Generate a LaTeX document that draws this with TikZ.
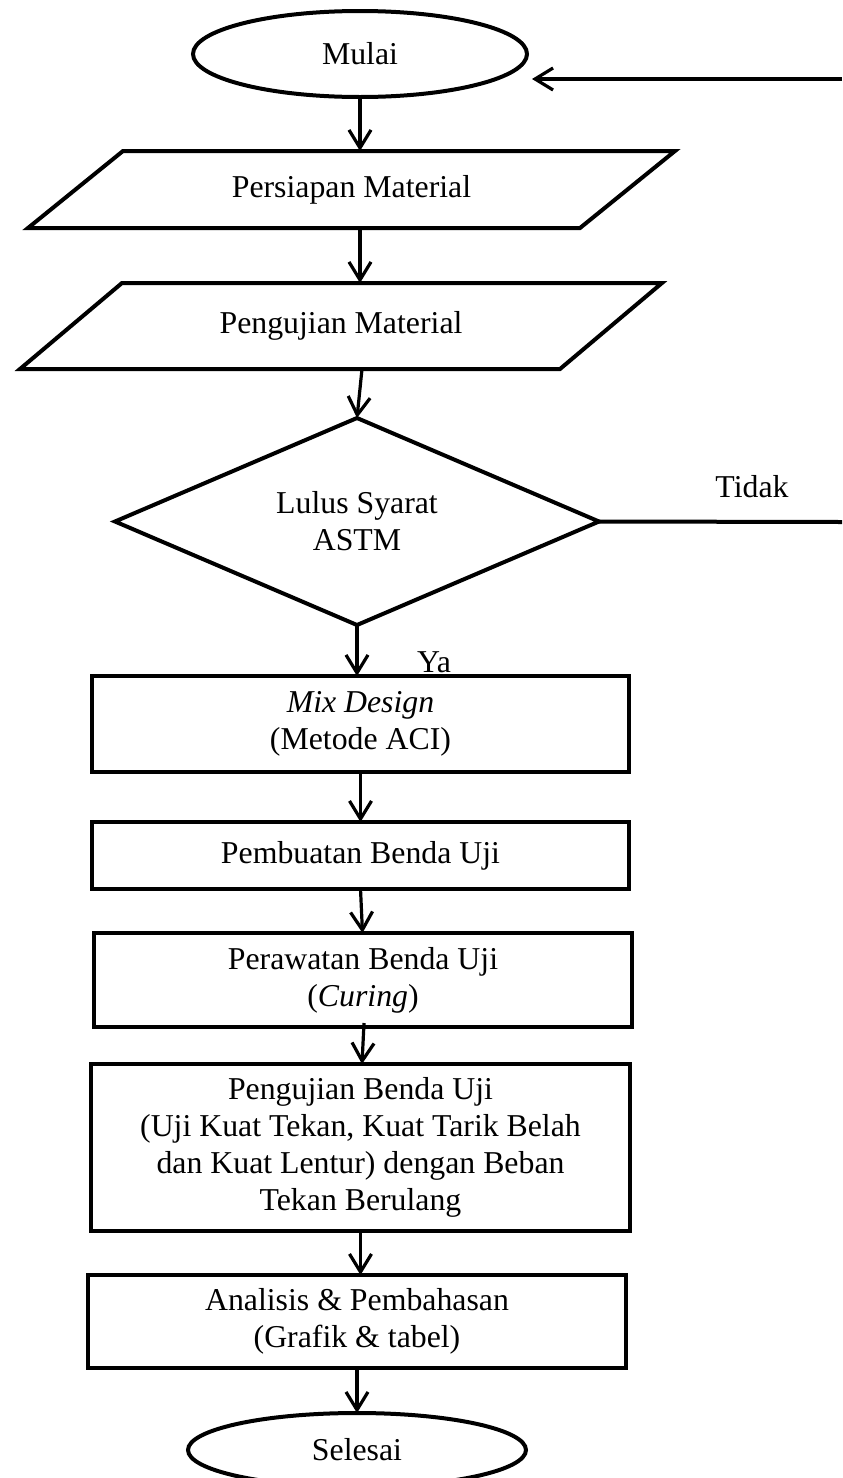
\documentclass[tikz,border=0pt]{standalone}
\usepackage{fontspec}
\setmainfont{Liberation Serif}
\usetikzlibrary{shapes.geometric,arrows.meta,calc}
\begin{document}
\begin{tikzpicture}[x=0.5pt,y=-0.5pt,
  every node/.style={font=\fontsize{15.9pt}{18.4pt}\selectfont, align=center, inner sep=0pt, outer sep=0pt},
  shapeline/.style={draw=black, line width=2pt, line join=miter},
  term/.style={shapeline, ellipse},
  procbox/.style={shapeline, rectangle},
  flow/.style={draw=black, line width=1.6pt, -{Straight Barb[length=9pt,width=11pt,line width=1.6pt]}},
  plainline/.style={draw=black, line width=2pt},
  lbl/.style={}
]
\useasboundingbox[fill=white] (0,0) rectangle (842,1478);

% Start
\node[term, minimum width=167pt, minimum height=43pt] (mulai) at (360,54) {Mulai};

% Parallelograms (text holders, outline drawn below)
\node[minimum width=276pt, minimum height=38.5pt] (pm) at (351.5,189.5) {Persiapan Material};
\draw[shapeline] ($(pm.north west)+(47.5,0)$) -- ($(pm.north east)+(47.5,0)$)
  -- ($(pm.south east)+(-47.5,0)$) -- ($(pm.south west)+(-47.5,0)$) -- cycle;

\node[minimum width=270pt, minimum height=43pt] (ujm) at (341,326) {Pengujian Material};
\draw[shapeline] ($(ujm.north west)+(51,0)$) -- ($(ujm.north east)+(51,0)$)
  -- ($(ujm.south east)+(-51,0)$) -- ($(ujm.south west)+(-51,0)$) -- cycle;

% Decision (text holder, diamond outline drawn below)
\node[minimum width=242pt, minimum height=103.5pt] (dec) at (357,521.5) {Lulus Syarat\\ASTM};
\draw[shapeline] (dec.north) -- (dec.east) -- (dec.south) -- (dec.west) -- cycle;

% Process boxes
\node[procbox, minimum width=268.5pt, minimum height=48pt] (mix) at (360.5,724) {\textit{Mix Design}\\(Metode ACI)};
\node[procbox, minimum width=268.5pt, minimum height=33.5pt] (buat) at (360.5,855.5) {Pembuatan Benda Uji};
\node[procbox, minimum width=269pt, minimum height=47pt] (rawat) at (363,980) {Perawatan Benda Uji\\(\textit{Curing})};
\node[procbox, minimum width=269.5pt, minimum height=83.5pt] (uji) at (360.5,1147.5) {Pengujian Benda Uji\\(Uji Kuat Tekan, Kuat Tarik Belah\\dan Kuat Lentur) dengan Beban\\Tekan Berulang};
\node[procbox, minimum width=269pt, minimum height=46.5pt] (anal) at (357,1321.5) {Analisis \& Pembahasan\\(Grafik \& tabel)};

% End
\node[term, minimum width=169pt, minimum height=37pt] (selesai) at (357,1450) {Selesai};

% Labels
\node[lbl] (tidak) at (752,487) {Tidak};
\node[lbl] (ya) at (434,662) {Ya};

% Loop-back coordinates
\coordinate (tidakend) at (842,522);
\coordinate (backstart) at (842,79);
\coordinate (backtip) at (532,79);

% Connectors
\draw[flow] (mulai.south) -- (mulai.south |- pm.north);
\draw[flow] (mulai.south |- pm.south) -- (mulai.south |- ujm.north);
\draw[flow] ($(mulai.south |- ujm.south)+(2,0)$) -- (dec.north);
\draw[flow] (dec.south) -- (dec.south |- mix.north);
\draw[flow] (mix.south) -- (mix.south |- buat.north);
\draw[flow] (buat.south) -- ($(buat.south |- rawat.north)+(2,0)$);
\draw[flow] ($(rawat.south)+(1,-4)$) -- ($(rawat.south |- uji.north)+(-1,0)$);
\draw[flow] (uji.south) -- (uji.south |- anal.north);
\draw[flow] (anal.south) -- (anal.south |- selesai.north);

\draw[plainline] (dec.east) -- (tidakend);
\draw[flow] (backstart) -- (backtip);
\end{tikzpicture}
\end{document}
